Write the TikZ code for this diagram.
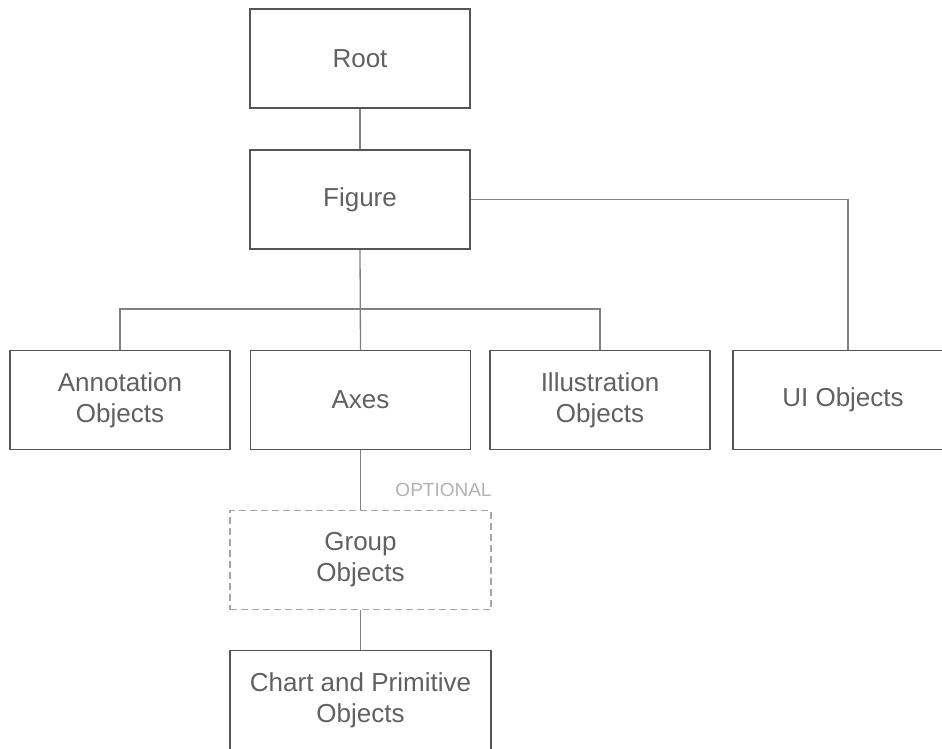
\documentclass[tikz,border=0pt]{standalone}
\usepackage{fontspec}
\setmainfont{Liberation Sans}
\usepackage{xcolor}
\usepackage{tikz}

\definecolor{boxline}{HTML}{555555}
\definecolor{wire}{HTML}{808080}
\definecolor{txt}{HTML}{606060}

\begin{document}
\begin{tikzpicture}[x=1pt,y=-1pt,
  box/.style={draw=boxline,line width=1.5pt,minimum width=220pt,minimum height=99pt,
    align=center,text=txt,font=\fontsize{26}{31}\selectfont},
  optbox/.style={box,draw=gray!70,dash pattern=on 7pt off 4pt,minimum width=261pt},
  wide/.style={box,minimum width=261pt},
  conn/.style={draw=wire,line width=1.3pt}]
  \useasboundingbox (0,0) rectangle (942,748);
  \node[box] (root) at (360,58.5) {Root};
  \node[box] (figure) at (360,199.5) {Figure};
  \node[box] (annot) at (120,400) {Annotation\\Objects};
  \node[box] (axes) at (360.5,400) {Axes};
  \node[box] (illus) at (600,400) {Illustration\\Objects};
  \node[box] (ui) at (843,400) {UI Objects};
  \node[optbox] (group) at (360.5,560) {Group\\Objects};
  \node[wide] (chart) at (360.5,700) {Chart and Primitive\\Objects};
  \node[anchor=base east,inner sep=0pt,text=gray!60,font=\fontsize{19}{19}\selectfont]
    (opt) at ([yshift=13pt]group.north east) {OPTIONAL};
  \coordinate (bus) at (360,309);
  \coordinate (uitop) at ([xshift=5pt]ui.north);
  \draw[conn] (root.south) -- (figure.north);
  \draw[conn] (figure.south) -- (axes.north);
  \draw[conn] (annot.north) |- (bus) -| (illus.north);
  \draw[conn] (figure.east) -| (uitop);
  \draw[conn] (axes.south) -- (group.north);
  \draw[conn] (group.south) -- (chart.north);
\end{tikzpicture}
\end{document}
